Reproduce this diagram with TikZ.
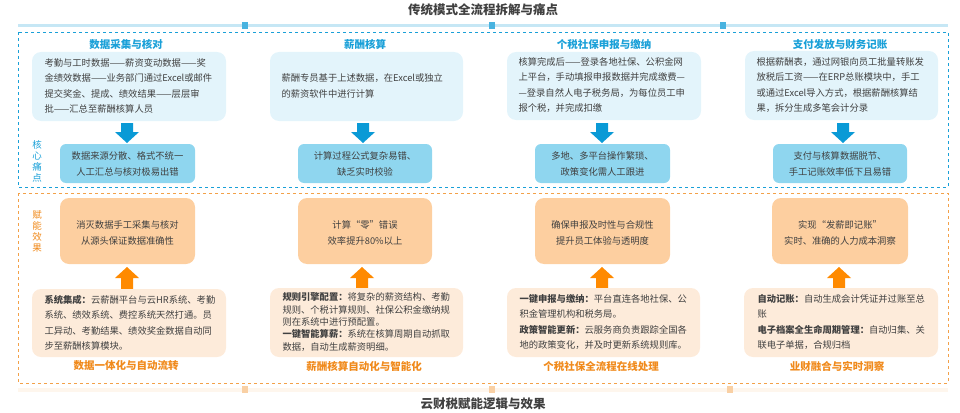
\documentclass[tikz,border=0pt]{standalone}
\usepackage{fontspec}
\setmainfont{Noto Sans CJK SC}
\usetikzlibrary{calc}
\definecolor{tblue}{HTML}{1AA0D8}
\definecolor{bluebox}{HTML}{E3F4FB}
\definecolor{painbox}{HTML}{8FD6EF}
\definecolor{arrblue}{HTML}{0A9AD6}
\definecolor{torange}{HTML}{F08A1C}
\definecolor{effbox}{HTML}{FDCFA0}
\definecolor{detbox}{HTML}{FDEBDA}
\definecolor{arrorange}{HTML}{FF8A00}
\definecolor{txt}{HTML}{404040}
\tikzset{
  head/.style={font=\fontsize{12.5}{14}\selectfont\bfseries, text=txt},
  sec/.style={font=\fontsize{10.5}{12}\selectfont\bfseries},
  body/.style={font=\fontsize{9.3}{15.5}\selectfont, text=txt, align=left, anchor=west},
  mid/.style={font=\fontsize{9.3}{16}\selectfont, text=txt, align=center},
  rbox/.style={rounded corners=9pt, draw=none},
}
\begin{document}
\begin{tikzpicture}[x=1pt,y=-1pt]
    \useasboundingbox (0,0) rectangle (960,412);

    % top half
    \node[head] (ttop) at (483,10) {传统模式全流程拆解与痛点};
    \fill[tblue!25] (18,24) rectangle (948,27);
    \foreach \xx in {245,492,723} \fill[tblue!80] (\xx-3,22) rectangle (\xx+3,29);
    \draw[tblue, dashed, line width=0.9pt] (18,32) rectangle (948,187);

    \fill[bluebox, rbox] (32,52) rectangle (226,121);
    \fill[bluebox, rbox] (270,52) rectangle (463,121);
    \fill[bluebox, rbox] (507,52) rectangle (701,120);
    \fill[bluebox, rbox] (745,51) rectangle (938,120);

    \node[sec, text=tblue] (s1) at (126,44) {数据采集与核对};
    \node[sec, text=tblue] (s2) at (365,44) {薪酬核算};
    \node[sec, text=tblue] (s3) at (604,44) {个税社保申报与缴纳};
    \node[sec, text=tblue] (s4) at (840,44) {支付发放与财务记账};

    \node[body] (b1) at (41,86) {考勤与工时数据——薪资变动数据——奖\\金绩效数据——业务部门通过Excel或邮件\\提交奖金、提成、绩效结果——层层审\\批——汇总至薪酬核算人员};
    \node[body] (b2) at (278,86) {薪酬专员基于上述数据，在Excel或独立\\的薪资软件中进行计算};
    \node[body] (b3) at (515,85) {核算完成后——登录各地社保、公积金网\\上平台，手动填报申报数据并完成缴费—\\—登录自然人电子税务局，为每位员工申\\报个税，并完成扣缴};
    \node[body] (b4) at (753,85) {根据薪酬表，通过网银向员工批量转账发\\放税后工资——在ERP总账模块中，手工\\或通过Excel导入方式，根据薪酬核算结\\果，拆分生成多笔会计分录};

    \foreach \xx in {127,363,602,843}
        \fill[arrblue] (\xx-6,123) -- (\xx+6,123) -- (\xx+6,132) -- (\xx+12,132)
            -- (\xx,143) -- (\xx-12,132) -- (\xx-6,132) -- cycle;

    \node[font=\fontsize{9.5}{11}\selectfont, text=tblue, align=center] (pain) at (37,161) {核\\心\\痛\\点};

    \fill[painbox, rounded corners=6pt] (60,144) rectangle (195,183);
    \fill[painbox, rounded corners=6pt] (298,144) rectangle (432,183);
    \fill[painbox, rounded corners=6pt] (535,144) rectangle (670,183);
    \fill[painbox, rounded corners=6pt] (773,144) rectangle (907,183);
    \node[mid] (p1) at (127.5,163.5) {数据来源分散、格式不统一\\人工汇总与核对极易出错};
    \node[mid] (p2) at (365,163.5) {计算过程公式复杂易错、\\缺乏实时校验};
    \node[mid] (p3) at (602.5,163.5) {多地、多平台操作繁琐、\\政策变化需人工跟进};
    \node[mid] (p4) at (840,163.5) {支付与核算数据脱节、\\手工记账效率低下且易错};

    % bottom half
    \draw[torange!80, dashed, line width=0.9pt] (18,193) rectangle (948,383);
    \node[font=\fontsize{9.5}{11}\selectfont, text=torange, align=center] (gain) at (37,231) {赋\\能\\效\\果};

    \fill[effbox, rbox] (60,198) rectangle (195,264);
    \fill[effbox, rbox] (298,198) rectangle (432,264);
    \fill[effbox, rbox] (535,198) rectangle (670,264);
    \fill[effbox, rbox] (772,198) rectangle (908,264);
    \node[mid] (e1) at (127.5,233) {消灭数据手工采集与核对\\从源头保证数据准确性};
    \node[mid] (e2) at (365,233) {计算“零”错误\\效率提升80\%以上};
    \node[mid] (e3) at (602.5,233) {确保申报及时性与合规性\\提升员工体验与透明度};
    \node[mid] (e4) at (840,233) {实现“发薪即记账”\\实时、准确的人力成本洞察};

    \foreach \xx in {127,362,602,839}
        \fill[arrorange] (\xx-6,289) -- (\xx+6,289) -- (\xx+6,278) -- (\xx+12,278)
            -- (\xx,267) -- (\xx-12,278) -- (\xx-6,278) -- cycle;

    \fill[detbox, rbox] (32,289) rectangle (226,357);
    \fill[detbox, rbox] (270,288) rectangle (463,357);
    \fill[detbox, rbox] (507,288) rectangle (700,357);
    \fill[detbox, rbox] (744,288) rectangle (938,357);

    \node[body] (d1) at (41,323) {\textbf{系统集成：}云薪酬平台与云HR系统、考勤\\系统、绩效系统、费控系统天然打通。员\\工异动、考勤结果、绩效奖金数据自动同\\步至薪酬核算模块。};
    \node[body, font=\fontsize{9.3}{12.3}\selectfont] (d2) at (279,322) {\textbf{规则引擎配置：}将复杂的薪资结构、考勤\\规则、个税计算规则、社保公积金缴纳规\\则在系统中进行预配置。\\\textbf{一键智能算薪：}系统在核算周期自动抓取\\数据，自动生成薪资明细。};
    \node[body] (d3) at (516,322) {\textbf{一键申报与缴纳：}平台直连各地社保、公\\积金管理机构和税务局。\\\textbf{政策智能更新：}云服务商负责跟踪全国各\\地的政策变化，并及时更新系统规则库。};
    \node[body] (d4) at (754,322) {\textbf{自动记账：}自动生成会计凭证并过账至总\\账\\\textbf{电子档案全生命周期管理：}自动归集、关\\联电子单据，合规归档};

    \node[sec, text=torange] (f1) at (126,366) {数据一体化与自动流转};
    \node[sec, text=torange] (f2) at (364,366) {薪酬核算自动化与智能化};
    \node[sec, text=torange] (f3) at (601,366) {个税社保全流程在线处理};
    \node[sec, text=torange] (f4) at (837,366) {业财融合与实时洞察};

    \fill[torange!8] (18,388) rectangle (948,392);
    \foreach \xx in {245,492,730} \fill[torange!40] (\xx-3,386) rectangle (\xx+3,393);
    \node[head] (tbot) at (483,404) {云财税赋能逻辑与效果};

\end{tikzpicture}
\end{document}
